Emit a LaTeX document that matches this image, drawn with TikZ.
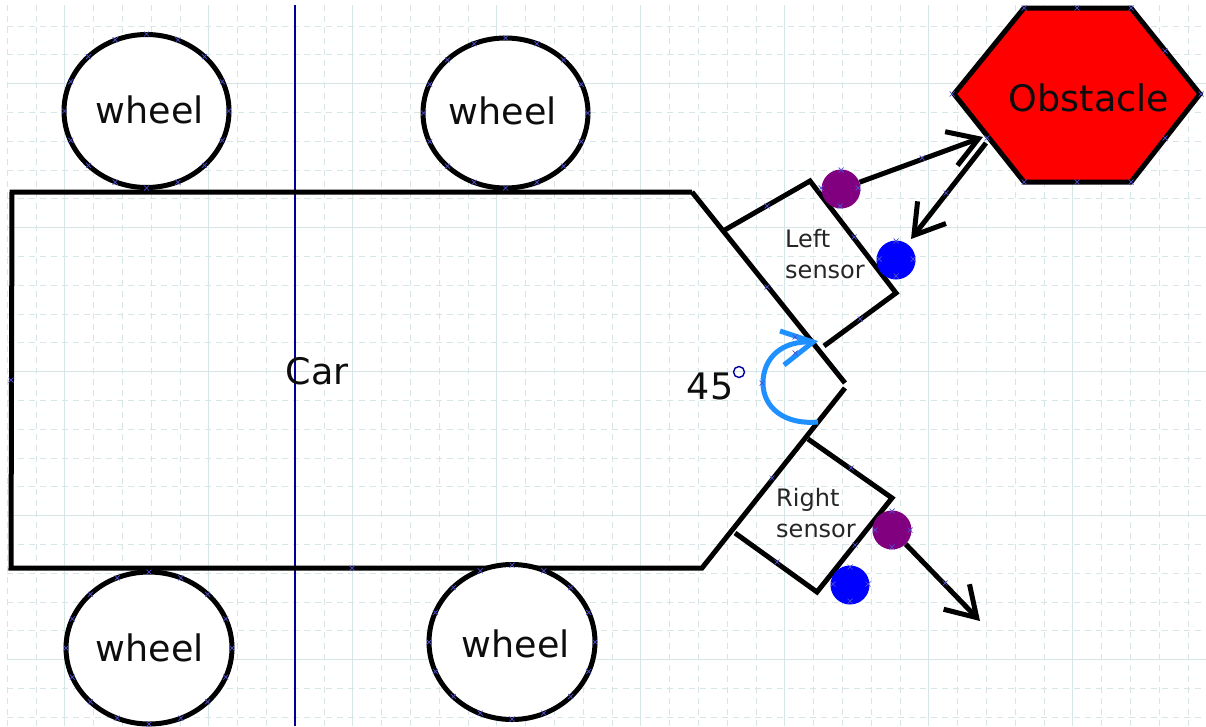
\documentclass[tikz,border=0pt]{standalone}
\usepackage{fontspec}
\setmainfont{DejaVu Sans}
\usetikzlibrary{shapes.geometric,arrows.meta}
\definecolor{gridc}{RGB}{214,230,230}
\definecolor{markc}{RGB}{80,80,210}
\definecolor{arcblue}{RGB}{30,144,255}
\definecolor{plum}{RGB}{128,0,128}
\tikzset{
  gridmajor/.style={gridc,line width=1.2pt},
  gridminor/.style={gridc,line width=0.9pt,dash pattern=on 6pt off 5pt},
  bodyline/.style={black,line width=5pt,line join=miter},
  wheelnode/.style={ellipse,draw=black,line width=5pt,fill=white,inner sep=0pt},
  bigtext/.style={font=\fontsize{36.5}{40}\selectfont,text=black!95,inner sep=0pt},
  smalltext/.style={font=\fontsize{24}{31}\selectfont,text=black!85,inner sep=0pt,align=left},
  dot/.style={circle,minimum size=39pt,inner sep=0pt},
  barbarrow/.style={black,line width=5pt,-{Straight Barb[length=29pt,width=36pt,line width=5pt]}},
  mk/.style={markc,line width=0.7pt}
}
\newcommand{\mkat}[2]{\draw[mk] (#1-2.5,#2-2.5) -- (#1+2.5,#2+2.5) (#1-2.5,#2+2.5) -- (#1+2.5,#2-2.5);}
\begin{document}
\begin{tikzpicture}[x=1pt,y=-1pt]
\useasboundingbox (0,0) rectangle (1206,726);
\fill[white] (0,0) rectangle (1206,726);
% grid
\foreach \i in {0,...,41}{
  \pgfmathsetmacro{\xx}{7.2+28.8*\i}
  \pgfmathparse{int(mod(\i,5))}
  \ifnum\pgfmathresult=2\relax
    \draw[gridmajor] (\xx,5) -- (\xx,726);
  \else
    \draw[gridminor] (\xx,5) -- (\xx,726);
  \fi
}
\foreach \i in {0,...,24}{
  \pgfmathsetmacro{\yy}{26+28.8*\i}
  \pgfmathparse{int(mod(\i,5))}
  \ifnum\pgfmathresult=2\relax
    \draw[gridmajor] (7,\yy) -- (1206,\yy);
  \else
    \draw[gridminor] (7,\yy) -- (1206,\yy);
  \fi
}
\coordinate (vtop) at (295,5);
\coordinate (vbot) at (295,726);
\draw[blue!60!black,line width=1.2pt] (vtop) -- (vbot);

% car outline
\draw[bodyline] (692,192) -- (12,192) -- (11,568) -- (702,568) -- (845,388);
\draw[bodyline] (692,192) -- (845,383);

% wheels
\node[wheelnode,minimum width=165pt,minimum height=153pt] (w1) at (146.5,111) {};
\node[wheelnode,minimum width=165pt,minimum height=150pt] (w2) at (505.5,113) {};
\node[wheelnode,minimum width=166pt,minimum height=152pt] (w3) at (149,648) {};
\node[wheelnode,minimum width=166pt,minimum height=155pt] (w4) at (512,642) {};
\node[bigtext] (t1) at (150,110) {wheel};
\node[bigtext] (t2) at (503,111) {wheel};
\node[bigtext] (t3) at (150,648) {wheel};
\node[bigtext] (t4) at (516,644) {wheel};
\node[bigtext] (car) at (317,371) {Car};

% obstacle
\draw[bodyline,fill=red] (1024,8) coordinate (h1) -- (1131,8) -- (1200,94) -- (1131,182) -- (1024,182) -- (954,94) -- cycle;
\node[bigtext] (obst) at (1089,98) {Obstacle};
\coordinate (hit1) at (983,137);
\coordinate (hit2) at (986,143);

% sensors
\draw[bodyline] (723,231) -- (810,181) -- (896,293) -- (824,346);
\draw[bodyline] (808,439) -- (892,498) -- (817,592) -- (735,533);
\node[smalltext] (ls) at (825,254) {Left\\sensor};
\node[smalltext] (rs) at (816,513) {Right\\sensor};

\node[dot,fill=plum] (lp) at (841,189) {};
\node[dot,fill=blue] (lb) at (896,260) {};
\node[dot,fill=plum] (rp) at (892,530) {};
\node[dot,fill=blue] (rb) at (850,585) {};

% arrows
\coordinate (ltip) at (911,239);
\coordinate (rtip) at (980,621);
\draw[barbarrow] (lp) -- (hit1);
\draw[barbarrow] (hit2) -- (ltip);
\draw[barbarrow] (rp) -- (rtip);

% angle
\coordinate (arcs) at (818,422);
\coordinate (arce) at (813,342);
\draw[arcblue,line width=5pt] (arcs) .. controls (785,425) and (763,408) .. (763,383) .. controls (763,358) and (782,340) .. (arce);
\coordinate (bar1) at (780,331);
\coordinate (bar2) at (784,365);
\draw[arcblue,line width=5pt] (bar1) -- (arce) -- (bar2);
\node[bigtext] (ang) at (710,386) {45};
\node[draw=blue!60!black,circle,line width=1.4pt,minimum size=11pt,inner sep=0pt] (deg) at (739,372) {};

% handle marks
\foreach \p in {0,22.5,...,337.5}{
  \pgfmathsetmacro{\ax}{146.5+82*cos(\p)}\pgfmathsetmacro{\ay}{111+77*sin(\p)}\mkat{\ax}{\ay}
  \pgfmathsetmacro{\ax}{505.5+82*cos(\p)}\pgfmathsetmacro{\ay}{113+75*sin(\p)}\mkat{\ax}{\ay}
  \pgfmathsetmacro{\ax}{149+83*cos(\p)}\pgfmathsetmacro{\ay}{648+76*sin(\p)}\mkat{\ax}{\ay}
  \pgfmathsetmacro{\ax}{512+83*cos(\p)}\pgfmathsetmacro{\ay}{642+77*sin(\p)}\mkat{\ax}{\ay}
}
\foreach \a/\b in {1024/8,1077/8,1131/8,1165/51,1201/94,1165/138,1131/182,1077/182,1024/182,952/94,987/138,
  922/158,946/193,767/206,854/237,860/319,767/287,
  841/170,821/188,858/188,840/206,896/241,879/259,913/259,896/276,
  851/468,772/478,855/545,777/562,945/583,
  892/511,875/530,910/530,892/547,850/567,833/584,868/584,850/601,
  795/337,795/353,762/383,11/380,352/568}{\mkat{\a}{\b}}
\end{tikzpicture}
\end{document}
